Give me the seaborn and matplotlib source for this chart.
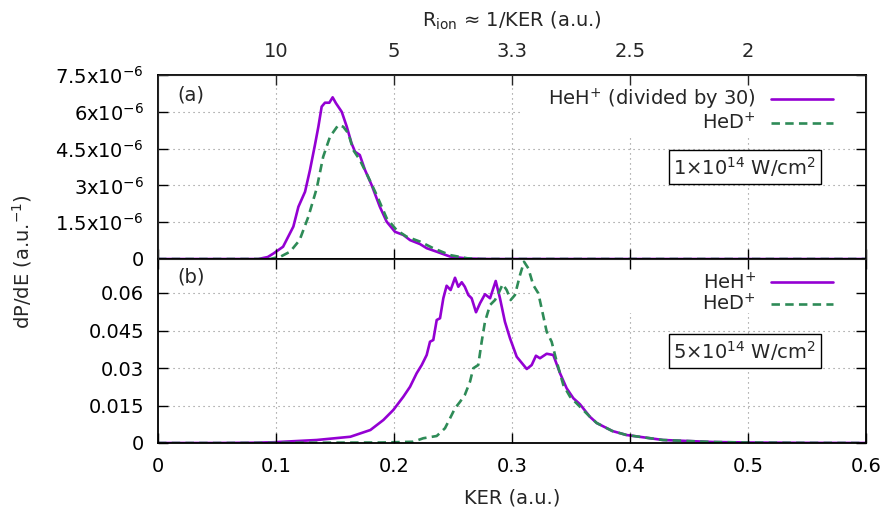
import numpy as np
import pandas as pd
import matplotlib
matplotlib.use("Agg")
import matplotlib.pyplot as plt
from matplotlib.patches import Rectangle
import seaborn as sns

# ---------------------------------------------------------------- data
# (a) 1e14 W/cm^2, values in units of 1e-6 a.u.^-1 (HeH+ already divided by 30)
ker_a_heh = [0.0, 0.05, 0.085, 0.093, 0.098, 0.106, 0.1147, 0.119, 0.1246, 0.1288,
             0.133, 0.1359, 0.1387, 0.1415, 0.1452, 0.148, 0.1508, 0.1557, 0.160,
             0.164, 0.167, 0.171, 0.1754, 0.181, 0.188, 0.1938, 0.2008, 0.2079,
             0.2136, 0.222, 0.2277, 0.236, 0.2475, 0.262, 0.28, 0.6]
val_a_heh = [0.0, 0.0, 0.0, 0.08, 0.23, 0.50, 1.32, 2.13, 2.74, 3.63,
             4.65, 5.39, 6.21, 6.37, 6.37, 6.59, 6.35, 6.00, 5.39,
             4.72, 4.37, 4.24, 3.63, 3.02, 2.13, 1.52, 1.11, 0.98,
             0.77, 0.61, 0.44, 0.30, 0.10, 0.02, 0.0, 0.0]

ker_a_hed = [0.0, 0.05, 0.095, 0.104, 0.112, 0.12, 0.1274, 0.1345, 0.14, 0.1458,
             0.1528, 0.157, 0.1613, 0.1655, 0.171, 0.178, 0.1853, 0.1938, 0.2022,
             0.2107, 0.222, 0.2333, 0.2475, 0.262, 0.272, 0.6]
val_a_hed = [0.0, 0.0, 0.0, 0.10, 0.30, 0.77, 1.72, 2.88, 4.17, 4.99,
             5.46, 5.39, 5.12, 4.44, 4.04, 3.36, 2.61, 1.66, 1.18,
             0.91, 0.71, 0.44, 0.16, 0.03, 0.0, 0.0]

# (b) 5e14 W/cm^2, values in a.u.^-1
ker_b_heh = [0.0, 0.05, 0.08, 0.098, 0.1345, 0.163, 0.18, 0.191, 0.1994, 0.2079,
             0.2136, 0.2192, 0.2235, 0.2277, 0.2305, 0.2333, 0.2362, 0.239, 0.2418,
             0.2446, 0.248, 0.2517, 0.2545, 0.2574, 0.26, 0.263, 0.2658, 0.2695,
             0.2729, 0.2771, 0.2814, 0.2862, 0.2898, 0.294, 0.2983, 0.304, 0.3125,
             0.3167, 0.3203, 0.3237, 0.3294, 0.335, 0.3407, 0.3463, 0.352, 0.3576,
             0.366, 0.3718, 0.385, 0.397, 0.428, 0.47, 0.5, 0.55, 0.6]
val_b_heh = [0.0, 0.0, 0.0001, 0.0003, 0.0012, 0.0025, 0.0052, 0.0092, 0.0132, 0.0185,
             0.0225, 0.0279, 0.0312, 0.0352, 0.0405, 0.0412, 0.0492, 0.0499, 0.0579,
             0.0629, 0.0612, 0.0661, 0.0625, 0.0643, 0.0625, 0.0592, 0.0579, 0.0523,
             0.0559, 0.0595, 0.0579, 0.0648, 0.0579, 0.0485, 0.0419, 0.0345, 0.0296,
             0.0312, 0.0349, 0.0339, 0.0357, 0.0352, 0.0279, 0.0219, 0.0179, 0.0155,
             0.0105, 0.0080, 0.0048, 0.0032, 0.0012, 0.0004, 0.0002, 0.00005, 0.0]

ker_b_hed = [0.0, 0.05, 0.19, 0.2164, 0.2248, 0.2362, 0.2432, 0.2475, 0.2517, 0.256,
             0.26, 0.2644, 0.2672, 0.2714, 0.2743, 0.2771, 0.2814, 0.2856, 0.2892,
             0.2921, 0.2955, 0.2989, 0.3025, 0.3068, 0.3102, 0.3138, 0.318, 0.3223,
             0.326, 0.3294, 0.3336, 0.3379, 0.3435, 0.3492, 0.3576, 0.366, 0.3718,
             0.385, 0.397, 0.428, 0.47, 0.5, 0.55, 0.6]
val_b_hed = [0.0, 0.0, 0.0002, 0.0005, 0.0019, 0.0028, 0.0059, 0.0099, 0.0139, 0.0165,
             0.0192, 0.0245, 0.0299, 0.0312, 0.0405, 0.0485, 0.0552, 0.0572, 0.0605,
             0.0635, 0.0612, 0.0572, 0.0592, 0.0672, 0.0725, 0.0699, 0.0632, 0.0599,
             0.0519, 0.0445, 0.0405, 0.0325, 0.0232, 0.0185, 0.0145, 0.0105, 0.0080,
             0.0048, 0.0032, 0.0012, 0.0004, 0.0002, 0.00005, 0.0]

ker_ticks = [0.0, 0.1, 0.2, 0.3, 0.4, 0.5, 0.6]
ker_ticklabels = ["0", "0.1", "0.2", "0.3", "0.4", "0.5", "0.6"]
r_ticks = [0.1, 0.2, 0.3, 0.4, 0.5]
r_ticklabels = ["10", "5", "3.3", "2.5", "2"]
ya_ticks = [0.0, 1.5, 3.0, 4.5, 6.0, 7.5]
ya_ticklabels = ["0", "1.5x10$^{-6}$", "3x10$^{-6}$", "4.5x10$^{-6}$",
                 "6x10$^{-6}$", "7.5x10$^{-6}$"]
yb_ticks = [0.0, 0.015, 0.03, 0.045, 0.06]
yb_ticklabels = ["0", "0.015", "0.03", "0.045", "0.06"]

# ---------------------------------------------------------------- style
sns.set_style("ticks")
plt.rcParams["font.family"] = ["DejaVu Sans"]
plt.rcParams["mathtext.default"] = "regular"
FS = 14
PURPLE = "#9400d3"
GREEN = "#2e8b57"
DASH = (0, (3.2, 2.0))
GRID = dict(linestyle=(0, (1, 3.5)), color="#888888", linewidth=0.8, zorder=0.8)
LW = 1.9

fig = plt.figure(figsize=(8.85, 5.23), dpi=100)
L, W, H = 158 / 885, 708 / 885, 184 / 523
ax_a = fig.add_axes([L, 264 / 523, W, H])
ax_b = fig.add_axes([L, 80 / 523, W, H])


def frame(ax, yticks, ylabels, ylim):
    ax.set_xlim(0, 0.6)
    ax.set_ylim(*ylim)
    ax.set_xticks(ker_ticks)
    ax.set_yticks(yticks)
    ax.set_yticklabels(ylabels, fontsize=FS)
    ax.set_axisbelow(False)
    ax.tick_params(direction="in", top=True, right=True, length=7, width=1,
                   colors="black", pad=10)
    for s in ax.spines.values():
        s.set_visible(True)
        s.set_linewidth(1.3)
        s.set_color("black")
    # dotted grid at the inner ticks
    for x in ker_ticks[1:-1]:
        ax.axvline(x, **GRID)
    for y in yticks[1:]:
        if y < ylim[1] * 0.99:
            ax.axhline(y, **GRID)
    ax.set_xlabel("")
    ax.set_ylabel("")


def key(ax, anchor, mask_x0, mask_y0):
    # white area behind the key hides the grid there
    ax.add_patch(Rectangle((mask_x0, mask_y0), 1 - mask_x0, 1 - mask_y0,
                           transform=ax.transAxes, facecolor="white",
                           edgecolor="none", zorder=1.0))
    leg = ax.legend(loc="upper right", bbox_to_anchor=anchor, fontsize=FS,
                    markerfirst=False, frameon=False, handlelength=3.2,
                    handletextpad=0.75, borderpad=0.0, borderaxespad=0.0,
                    labelspacing=0.0)
    for t in leg.get_texts():
        t.set_ha("right")
    leg._legend_box.align = "right"


# ---------------------------------------------------------------- panel (a)
df_a_heh = pd.DataFrame({"KER": ker_a_heh, "dPdE": val_a_heh})
df_a_hed = pd.DataFrame({"KER": ker_a_hed, "dPdE": val_a_hed})
sns.lineplot(data=df_a_heh, x="KER", y="dPdE", ax=ax_a, color=PURPLE,
             linewidth=LW, estimator=None, label="HeH$^{+}$ (divided by 30)")
sns.lineplot(data=df_a_hed, x="KER", y="dPdE", ax=ax_a, color=GREEN,
             linewidth=LW, linestyle=DASH, estimator=None, label="HeD$^{+}$")
frame(ax_a, ya_ticks, ya_ticklabels, (0, 7.5))
ax_a.tick_params(labelbottom=False)
key(ax_a, ((833 - 158) / 708, 0.936), (520 - 158) / 708, (259 - 135) / 184)

# ---------------------------------------------------------------- panel (b)
df_b_heh = pd.DataFrame({"KER": ker_b_heh, "dPdE": val_b_heh})
df_b_hed = pd.DataFrame({"KER": ker_b_hed, "dPdE": val_b_hed})
sns.lineplot(data=df_b_heh, x="KER", y="dPdE", ax=ax_b, color=PURPLE,
             linewidth=LW, estimator=None, label="HeH$^{+}$")
sns.lineplot(data=df_b_hed, x="KER", y="dPdE", ax=ax_b, color=GREEN,
             linewidth=LW, linestyle=DASH, estimator=None, label="HeD$^{+}$")
frame(ax_b, yb_ticks, yb_ticklabels, (0, 0.0736))
ax_b.set_xticklabels(ker_ticklabels, fontsize=FS)
ax_b.set_xlabel("KER (a.u.)", fontsize=FS, labelpad=9)
key(ax_b, ((833 - 158) / 708, 0.930), (533 - 158) / 708, (443 - 313) / 184)

box = dict(boxstyle="square,pad=0.25", fc="white", ec="black", lw=1)
ax_a.text(0.829, 0.5, "1×10$^{14}$ W/cm$^{2}$", transform=ax_a.transAxes,
          ha="center", va="center", fontsize=FS, bbox=box, zorder=6)
ax_b.text(0.829, 0.5, "5×10$^{14}$ W/cm$^{2}$", transform=ax_b.transAxes,
          ha="center", va="center", fontsize=FS, bbox=box, zorder=6)

ax_a.text(0.028, 0.89, "(a)", transform=ax_a.transAxes, ha="left",
          va="center", fontsize=FS)
ax_b.text(0.028, 0.90, "(b)", transform=ax_b.transAxes, ha="left",
          va="center", fontsize=FS)

# upper axis: approximate ion separation R = 1/KER
ax_r = ax_a.twiny()
ax_r.set_xlim(0, 0.6)
ax_r.set_xticks(r_ticks)
ax_r.set_xticklabels(r_ticklabels, fontsize=FS)
ax_r.tick_params(direction="in", length=7, width=1, pad=10)
ax_r.set_xlabel("R$_{ion}$ ≈ 1/KER (a.u.)", fontsize=FS, labelpad=11)
ax_a.tick_params(top=False)

fig.text(22 / 885, 1 - 262 / 523, "dP/dE (a.u.$^{-1}$)", rotation=90,
         ha="center", va="center", fontsize=FS)

fig.savefig("out.png", dpi=100, facecolor="white")
